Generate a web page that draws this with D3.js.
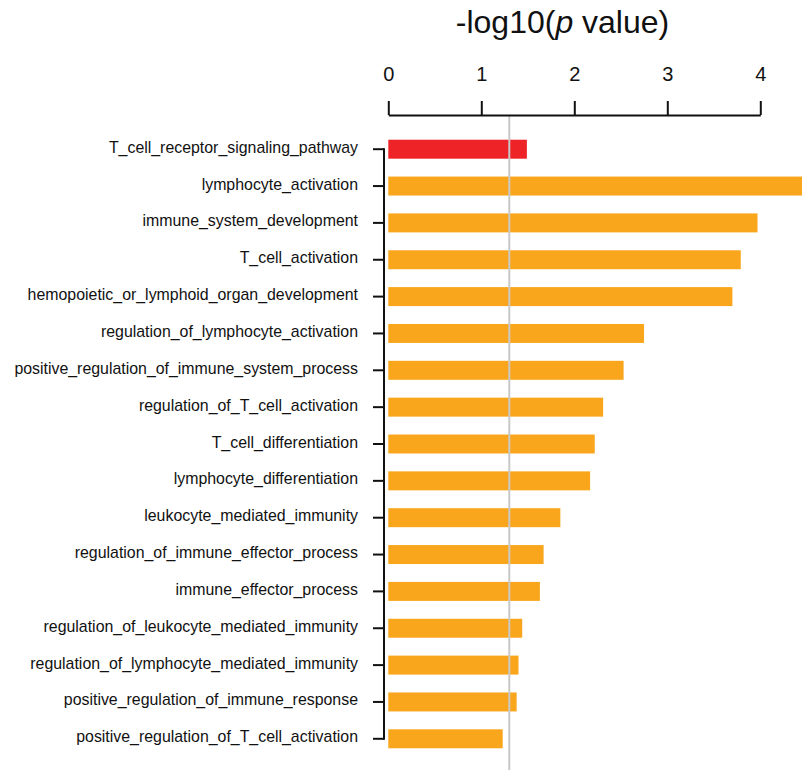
<!DOCTYPE html>
<html>
<head>
<meta charset="utf-8">
<script src="https://cdn.jsdelivr.net/npm/d3@7"></script>
<style>
  html, body { margin: 0; padding: 0; background: #fff; }
  svg { display: block; font-family: "Liberation Sans", Arial, Helvetica, sans-serif; }
</style>
</head>
<body>
<svg id="chart" width="802" height="770"></svg>
<script>
// GO terms, top to bottom
const terms = [
  "T_cell_receptor_signaling_pathway",
  "lymphocyte_activation",
  "immune_system_development",
  "T_cell_activation",
  "hemopoietic_or_lymphoid_organ_development",
  "regulation_of_lymphocyte_activation",
  "positive_regulation_of_immune_system_process",
  "regulation_of_T_cell_activation",
  "T_cell_differentiation",
  "lymphocyte_differentiation",
  "leukocyte_mediated_immunity",
  "regulation_of_immune_effector_process",
  "immune_effector_process",
  "regulation_of_leukocyte_mediated_immunity",
  "regulation_of_lymphocyte_mediated_immunity",
  "positive_regulation_of_immune_response",
  "positive_regulation_of_T_cell_activation"
];
// -log10(p value) per term
const negLogP = [1.49, 4.6, 3.97, 3.79, 3.70, 2.75, 2.53, 2.31, 2.22, 2.17,
                 1.85, 1.67, 1.63, 1.44, 1.40, 1.38, 1.23];
// highlighted pathway term
const highlighted = ["T_cell_receptor_signaling_pathway"];
const xTicks = [0, 1, 2, 3, 4];
const significance = 0.05;

const svg = d3.select("#chart");

const x = d3.scaleLinear().domain([0, 4]).range([388.3, 760.3]);
const y = d3.scaleBand().domain(terms).range([130.5, 757.5]).paddingInner(0.485).paddingOuter(0.25);

// bars
svg.append("g").selectAll("rect")
  .data(terms)
  .join("rect")
  .attr("x", x(0))
  .attr("y", d => y(d))
  .attr("width", (d, i) => x(negLogP[i]) - x(0))
  .attr("height", y.bandwidth())
  .attr("fill", d => highlighted.includes(d) ? "#ED2328" : "#F9A61D");

// significance threshold (p = 0.05)
svg.append("line")
  .attr("x1", x(-Math.log10(significance))).attr("x2", x(-Math.log10(significance)))
  .attr("y1", 115).attr("y2", 770)
  .attr("stroke", "#c8c8c8").attr("stroke-width", 2);

// top axis
const xAxis = svg.append("g")
  .attr("transform", "translate(0,115)")
  .call(d3.axisTop(x).tickValues(xTicks).tickFormat(d3.format("d")).tickSize(14).tickSizeOuter(0).tickPadding(20));
xAxis.select(".domain").attr("stroke", "#111").attr("stroke-width", 2);
xAxis.selectAll(".tick line").attr("stroke", "#111").attr("stroke-width", 2);
xAxis.selectAll(".tick text").attr("font-size", 20).attr("fill", "#111")
  .attr("font-family", "Liberation Sans, Arial, sans-serif");

// left axis
const yAxis = svg.append("g")
  .attr("transform", "translate(384,0)")
  .call(d3.axisLeft(y).tickSize(11).tickSizeOuter(0).tickPadding(15));
yAxis.select(".domain").remove();
yAxis.append("line")
  .attr("x1", 0).attr("x2", 0)
  .attr("y1", y(terms[0]) + y.bandwidth() / 2 - 1)
  .attr("y2", y(terms[terms.length - 1]) + y.bandwidth() / 2 + 1)
  .attr("stroke", "#111").attr("stroke-width", 2);
yAxis.selectAll(".tick line").attr("stroke", "#111").attr("stroke-width", 2);
yAxis.selectAll(".tick text").attr("font-size", 15.9).attr("fill", "#111")
  .attr("dy", "0.22em")
  .attr("font-family", "Liberation Sans, Arial, sans-serif");

// title
const title = svg.append("text")
  .attr("x", 562.5).attr("y", 33)
  .attr("text-anchor", "middle")
  .attr("font-size", 32)
  .attr("fill", "#111");
title.append("tspan").text("-log10(");
title.append("tspan").attr("font-style", "italic").text("p");
title.append("tspan").text(" value)");
</script>
</body>
</html>
